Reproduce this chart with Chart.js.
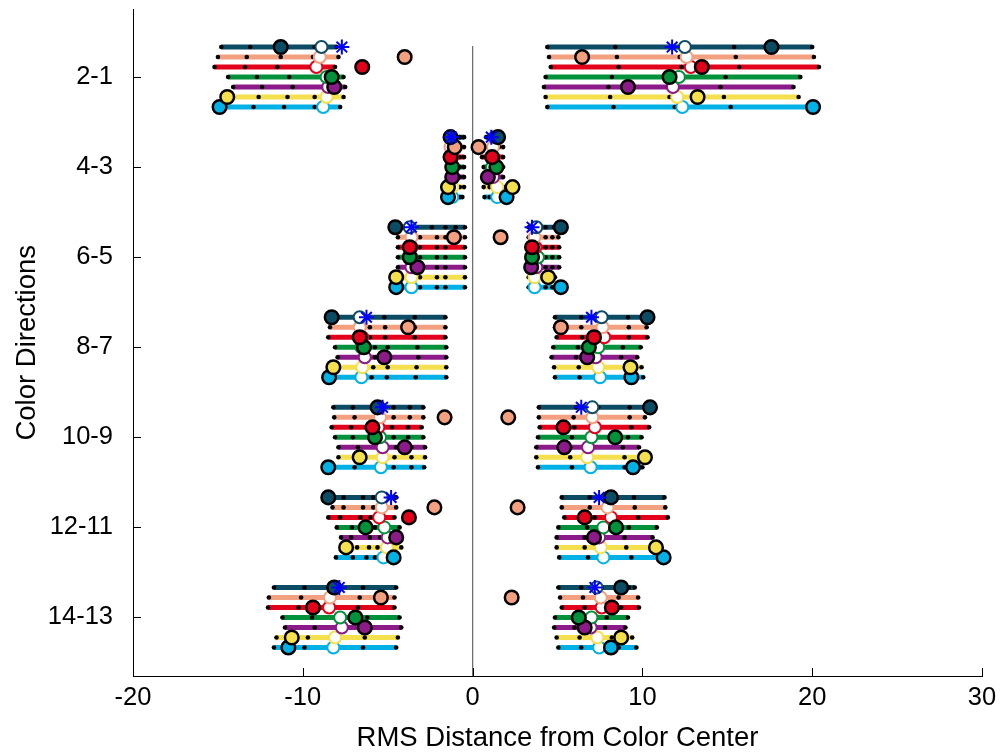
<!DOCTYPE html>
<html>
<head>
<meta charset="utf-8">
<script src="https://cdn.jsdelivr.net/npm/chart.js@4.4.1/dist/chart.umd.min.js"></script>
<style>
  html, body { margin: 0; padding: 0; background: #fff; }
</style>
</head>
<body>
<canvas id="chart" width="1005" height="752"></canvas>
<script>
const categories = ['2-1', '4-3', '6-5', '8-7', '10-9', '12-11', '14-13']
const rowColors = ['#0c4b64', '#f2a07f', '#e3001b', '#00913b', '#8c1a88', '#f4e04c', '#00b1e6']
const xTicks = [-20, -10, 0, 10, 20, 30]

// five dots per row (the line runs from first to last), by category then row
const leftDots = [
  [[-14.8, -13.1, -11.3, -9.3, -8.0], [-15.0, -13.3, -11.3, -9.4, -7.9], [-15.2, -13.4, -11.5, -9.5, -8.1], [-14.4, -12.7, -10.8, -8.8, -7.6], [-14.1, -12.4, -10.6, -8.7, -7.5], [-14.5, -12.6, -10.9, -9.3, -7.6], [-14.9, -12.9, -11.1, -9.3, -7.8]],
  [[-1.45, -1.2, -1.0, -0.75, -0.5], [-1.45, -1.2, -1.0, -0.75, -0.5], [-1.45, -1.2, -1.0, -0.75, -0.5], [-1.45, -1.2, -1.0, -0.75, -0.5], [-1.45, -1.2, -1.0, -0.75, -0.5], [-1.45, -1.2, -1.0, -0.75, -0.5], [-1.45, -1.2, -1.0, -0.75, -0.6]],
  [[-4.6, -2.4, -1.6, -1.0, -0.45], [-4.4, -3.1, -2.1, -1.6, -0.45], [-4.4, -3.1, -2.1, -1.6, -0.45], [-4.4, -3.1, -2.1, -1.6, -0.45], [-4.4, -3.1, -2.1, -1.6, -0.45], [-4.5, -3.1, -2.1, -1.6, -0.45], [-4.6, -3.1, -2.1, -1.6, -0.45]],
  [[-8.3, -6.6, -5.2, -3.4, -1.6], [-8.4, -6.05, -5.15, -3.4, -1.6], [-8.5, -6.05, -5.15, -3.4, -1.6], [-8.1, -5.75, -5.0, -3.25, -1.55], [-7.95, -5.75, -5.0, -3.2, -1.55], [-8.2, -5.85, -5.0, -3.3, -1.55], [-8.45, -5.95, -5.05, -3.35, -1.55]],
  [[-8.2, -7.05, -4.65, -3.7, -2.9], [-8.15, -6.95, -4.65, -3.7, -2.9], [-8.3, -7.15, -4.75, -3.8, -3.0], [-8.1, -7.05, -4.65, -3.8, -2.9], [-7.9, -6.75, -4.5, -3.6, -2.8], [-7.9, -6.75, -4.6, -3.6, -2.8], [-8.5, -6.95, -4.65, -3.6, -2.85]],
  [[-8.5, -7.6, -6.45, -5.85, -4.5], [-8.25, -7.6, -6.45, -5.85, -4.5], [-8.5, -7.8, -6.6, -6.0, -4.6], [-8.0, -7.1, -6.2, -5.75, -4.3], [-7.75, -7.15, -6.05, -5.45, -4.2], [-7.7, -6.8, -6.1, -5.6, -4.2], [-8.05, -7.05, -6.25, -5.75, -4.6]],
  [[-11.7, -9.9, -8.15, -6.45, -4.5], [-12.0, -10.1, -8.4, -6.65, -4.6], [-12.05, -10.25, -8.45, -6.75, -4.6], [-11.2, -9.45, -7.8, -6.2, -4.3], [-11.05, -9.3, -7.7, -6.15, -4.2], [-11.55, -9.7, -8.1, -6.35, -4.4], [-11.7, -9.9, -8.2, -6.45, -4.5]]
]
const rightDots = [
  [[4.4, 8.4, 12.2, 15.4, 20.0], [4.5, 8.5, 12.2, 15.5, 20.1], [4.6, 8.6, 12.3, 15.7, 20.4], [4.3, 8.2, 11.4, 14.9, 19.3], [4.2, 8.0, 11.5, 14.6, 18.9], [4.3, 8.1, 11.6, 14.8, 19.2], [4.4, 8.3, 11.9, 15.2, 20.0]],
  [[0.8, 1.05, 1.3, 1.55, 1.8], [0.65, 0.95, 1.25, 1.55, 1.8], [0.55, 0.9, 1.2, 1.5, 1.8], [0.65, 0.95, 1.2, 1.5, 1.8], [0.65, 0.95, 1.2, 1.5, 1.8], [0.65, 1.0, 1.3, 1.6, 1.9], [0.7, 1.0, 1.3, 1.6, 1.9]],
  [[3.3, 3.75, 4.3, 4.8, 5.25], [3.3, 3.75, 4.3, 4.7, 5.05], [3.3, 3.75, 4.3, 4.7, 5.1], [3.3, 3.75, 4.3, 4.7, 5.1], [3.3, 3.75, 4.3, 4.7, 5.1], [3.3, 3.75, 4.2, 4.55, 4.85], [3.3, 3.75, 4.3, 4.7, 5.2]],
  [[4.85, 6.4, 7.6, 9.15, 10.3], [4.85, 6.4, 7.6, 9.2, 10.25], [4.95, 6.45, 7.7, 9.2, 10.3], [4.75, 6.2, 7.35, 8.85, 9.9], [4.65, 6.1, 7.25, 8.75, 9.7], [4.8, 6.25, 7.4, 9.05, 9.95], [4.85, 6.3, 7.5, 9.05, 10.05]],
  [[3.9, 6.1, 7.4, 9.25, 10.45], [3.9, 5.95, 7.0, 9.25, 10.15], [3.95, 6.0, 7.2, 9.35, 10.4], [3.85, 5.85, 7.0, 9.15, 9.95], [3.75, 5.75, 6.8, 8.85, 9.8], [3.75, 5.75, 6.8, 8.95, 10.15], [3.85, 5.85, 6.95, 8.95, 10.0]],
  [[5.25, 6.9, 8.2, 9.5, 11.3], [5.25, 6.9, 7.95, 9.55, 11.35], [5.4, 7.2, 8.1, 9.75, 11.5], [5.05, 6.75, 7.7, 9.2, 10.85], [4.95, 6.6, 7.4, 8.95, 10.6], [4.95, 6.6, 7.55, 9.05, 10.85], [5.1, 6.8, 7.7, 9.35, 11.35]],
  [[5.05, 6.4, 7.6, 9.2, 9.55], [5.15, 6.5, 7.6, 8.6, 9.75], [5.25, 6.6, 7.6, 8.75, 9.8], [4.85, 6.2, 7.0, 7.9, 9.15], [4.8, 6.0, 6.95, 7.8, 9.0], [4.95, 6.3, 7.35, 8.2, 9.4], [5.05, 6.4, 7.4, 8.6, 9.65]]
]

// open circles (group centre) and filled circles (single value), by category then row
const leftMean = [
  [-8.9, -9.0, -9.2, -8.6, -8.5, -8.6, -8.8],
  [-1.25, -1.3, -1.2, -1.2, -1.2, -1.2, -1.2],
  [-3.7, -3.6, -3.6, -3.6, -3.6, -3.6, -3.6],
  [-6.65, -6.65, -6.5, -6.55, -6.35, -6.5, -6.55],
  [-5.5, -5.45, -5.55, -5.45, -5.3, -5.3, -5.4],
  [-5.35, -5.35, -5.5, -5.2, -5.0, -5.05, -5.25],
  [-8.2, -8.4, -8.45, -7.8, -7.7, -8.1, -8.2]
]
const leftPoint = [
  [-11.3, -4.0, -6.5, -8.3, -8.15, -14.45, -14.9],
  [-1.3, -1.05, -1.3, -1.2, -1.2, -1.45, -1.45],
  [-4.55, -1.1, -3.7, -3.7, -3.25, -4.5, -4.5],
  [-8.3, -3.8, -6.65, -6.4, -5.2, -8.2, -8.45],
  [-5.6, -1.65, -5.9, -5.75, -4.0, -6.65, -8.5],
  [-8.5, -2.25, -3.75, -6.3, -4.5, -7.45, -4.65],
  [-8.15, -5.4, -9.4, -6.9, -6.35, -10.65, -10.85]
]
const rightMean = [
  [12.5, 12.6, 12.85, 12.15, 11.8, 12.05, 12.35],
  [1.3, 1.2, 1.2, 1.15, 1.2, 1.45, 1.45],
  [3.75, 3.65, 3.7, 3.85, 3.75, 3.65, 3.65],
  [7.6, 7.65, 7.75, 7.4, 7.25, 7.4, 7.5],
  [7.05, 7.05, 7.2, 7.0, 6.8, 6.75, 6.95],
  [8.0, 7.95, 8.15, 7.7, 7.45, 7.55, 7.7],
  [7.3, 7.55, 7.6, 7.0, 6.95, 7.35, 7.45]
]
const rightPoint = [
  [17.6, 6.45, 13.5, 11.6, 9.15, 13.25, 20.05],
  [1.5, 0.35, 1.15, 1.4, 0.9, 2.35, 2.0],
  [5.2, 1.65, 3.5, 3.5, 3.45, 4.45, 5.2],
  [10.3, 5.2, 7.15, 6.85, 6.75, 9.3, 9.35],
  [10.45, 2.1, 5.35, 8.4, 5.4, 10.15, 9.45],
  [8.15, 2.65, 6.6, 8.45, 7.15, 10.8, 11.25],
  [8.75, 2.3, 8.2, 6.25, 6.6, 8.75, 8.15]
]
// blue asterisks on the first row of each category
const leftStar = [-7.7, -1.25, -3.6, -6.25, -5.3, -4.8, -7.85]
const rightStar = [11.75, 1.1, 3.5, 7.0, 6.4, 7.45, 7.2]

const rowGap = 0.111
const rowY = (c, r) => c + 1 + (r - 3) * rowGap

const datasets = []

// zero reference line
datasets.push({
  type: 'line',
  data: [{ x: 0, y: rowY(0, 0) - 0.01 }, { x: 0, y: 7.65 }],
  borderColor: '#6e6e6e',
  borderWidth: 1,
  pointRadius: 0,
  order: 10,
})

rowColors.forEach((color, r) => {
  const segs = []
  categories.forEach((cat, c) => {
    for (const side of [leftDots, rightDots]) {
      const d = side[c][r]
      segs.push({ x: d[0], y: rowY(c, r) }, { x: d[d.length - 1], y: rowY(c, r) }, { x: d[d.length - 1], y: null })
    }
  })
  datasets.push({
    type: 'line',
    data: segs,
    borderColor: color,
    borderWidth: 5,
    borderCapStyle: 'butt',
    pointRadius: 0,
    spanGaps: false,
    order: 9,
  })
})

const dots = []
categories.forEach((cat, c) => {
  for (let r = 0; r < 7; r++) {
    for (const side of [leftDots, rightDots]) {
      side[c][r].forEach((v) => dots.push({ x: v, y: rowY(c, r) }))
    }
  }
})
datasets.push({
  type: 'scatter',
  data: dots,
  pointRadius: 2.3,
  pointBackgroundColor: '#000',
  pointBorderWidth: 0,
  order: 8,
})

rowColors.forEach((color, r) => {
  const opens = []
  const fills = []
  categories.forEach((cat, c) => {
    opens.push({ x: leftMean[c][r], y: rowY(c, r) }, { x: rightMean[c][r], y: rowY(c, r) })
    fills.push({ x: leftPoint[c][r], y: rowY(c, r) }, { x: rightPoint[c][r], y: rowY(c, r) })
  })
  datasets.push({
    type: 'scatter',
    data: opens,
    pointRadius: 6,
    pointBackgroundColor: '#fff',
    pointBorderColor: color,
    pointBorderWidth: 2,
    order: 7,
  })
  datasets.push({
    type: 'scatter',
    data: fills,
    pointRadius: 6.8,
    pointBackgroundColor: color,
    pointBorderColor: '#000',
    pointBorderWidth: 2.5,
    order: 6,
  })
})

const stars = []
categories.forEach((cat, c) => {
  stars.push({ x: leftStar[c], y: rowY(c, 0) }, { x: rightStar[c], y: rowY(c, 0) })
})
datasets.push({
  type: 'scatter',
  data: stars,
  pointStyle: 'star',
  pointRadius: 7.5,
  pointBorderColor: '#0000ff',
  pointBorderWidth: 2,
  order: 1,
})

// MATLAB-style ticks pointing into the plot
const inwardTicks = {
  id: 'inwardTicks',
  afterDatasetsDraw(chart) {
    const { ctx, chartArea, scales } = chart
    ctx.save()
    ctx.strokeStyle = '#000'
    ctx.lineWidth = 1
    ctx.beginPath()
    scales.x.ticks.forEach((t) => {
      const px = Math.round(scales.x.getPixelForValue(t.value)) + 0.5
      ctx.moveTo(px, chartArea.bottom)
      ctx.lineTo(px, chartArea.bottom - 8)
    })
    scales.y.ticks.forEach((t) => {
      const py = Math.round(scales.y.getPixelForValue(t.value)) + 0.5
      ctx.moveTo(chartArea.left, py)
      ctx.lineTo(chartArea.left + 8, py)
    })
    ctx.stroke()
    ctx.restore()
  },
}

const font = 'Liberation Sans, Arial, sans-serif'

new Chart(document.getElementById('chart'), {
  type: 'scatter',
  data: { datasets },
  options: {
    responsive: false,
    animation: false,
    events: [],
    layout: { padding: { left: 0, right: 23, top: 8, bottom: 0 } },
    plugins: { legend: { display: false }, tooltip: { enabled: false } },
    scales: {
      x: {
        type: 'linear',
        min: -20,
        max: 30,
        afterBuildTicks: (s) => { s.ticks = xTicks.map((v) => ({ value: v })) },
        afterFit: (s) => { s.height = 76; s.paddingLeft = 0; s.paddingRight = 0 },
        grid: { display: false, drawTicks: false },
        border: { display: true, color: '#000', width: 1 },
        ticks: { color: '#000', font: { family: font, size: 25.5 }, padding: 7 },
        title: { display: true, text: 'RMS Distance from Color Center', color: '#000', font: { family: font, size: 27.5, lineHeight: 1 }, padding: { top: 0, bottom: 0 } },
      },
      y: {
        type: 'linear',
        reverse: true,
        min: 0.25,
        max: 7.65,
        afterBuildTicks: (s) => { s.ticks = categories.map((c, i) => ({ value: i + 1 })) },
        afterFit: (s) => { s.width = 133; s.paddingTop = 0; s.paddingBottom = 0 },
        grid: { display: false, drawTicks: false },
        border: { display: true, color: '#000', width: 1 },
        ticks: { color: '#000', font: { family: font, size: 25.5 }, padding: 20, callback: (v) => categories[Math.round(v) - 1] },
        title: { display: true, text: 'Color Directions', color: '#000', font: { family: font, size: 27.5, lineHeight: 1 }, padding: { top: 14, bottom: 0 } },
      },
    },
  },
  plugins: [inwardTicks],
})
</script>
</body>
</html>
